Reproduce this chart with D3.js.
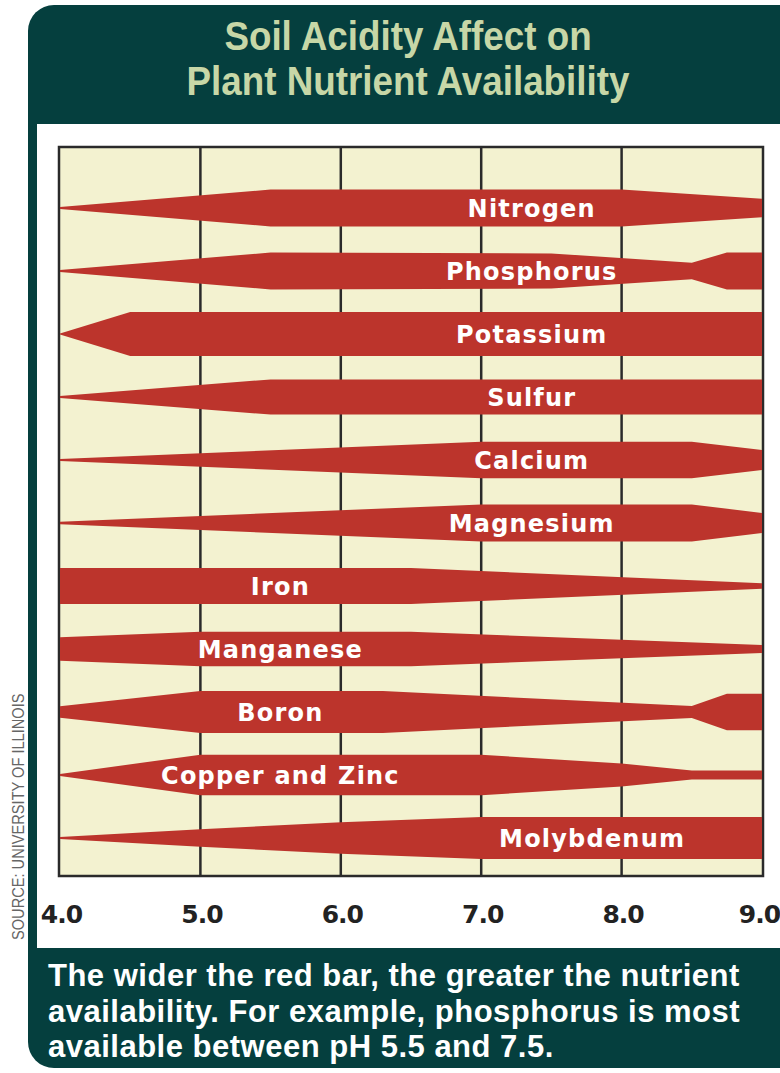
<!DOCTYPE html>
<html>
<head>
<meta charset="utf-8">
<script src="https://cdn.jsdelivr.net/npm/d3@7"></script>
<style>
  body { margin: 0; background: #ffffff; }
  svg { display: block; }
</style>
</head>
<body>
<div id="chart"></div>
<script>
// Nutrients, top to bottom
const nutrients = [
  "Nitrogen", "Phosphorus", "Potassium", "Sulfur", "Calcium", "Magnesium",
  "Iron", "Manganese", "Boron", "Copper and Zinc", "Molybdenum"
];

// pH axis
const phTicks = [4, 5, 6, 7, 8, 9];
const tickLabels = ["4.0", "5.0", "6.0", "7.0", "8.0", "9.0"];

// relative availability (0..1) at pH breakpoints
const nitrogen = [[4.0, 0.05], [5.5, 0.84], [8.0, 0.84], [9.0, 0.42]];
const phosphorus = [[4.0, 0.05], [5.5, 0.84], [7.5, 0.8], [8.5, 0.37], [8.75, 0.84], [9.0, 0.84]];
const potassium = [[4.0, 0.02], [4.5, 1.0], [9.0, 1.0]];
const sulfur = [[4.0, 0.05], [5.5, 0.8], [9.0, 0.8]];
const calcium = [[4.0, 0.05], [7.0, 0.83], [8.5, 0.83], [9.0, 0.46]];
const magnesium = [[4.0, 0.06], [7.0, 0.84], [8.5, 0.84], [9.0, 0.46]];
const iron = [[4.0, 0.82], [6.5, 0.82], [9.0, 0.12]];
const manganese = [[4.0, 0.53], [5.0, 0.78], [6.5, 0.78], [9.0, 0.18]];
const boron = [[4.0, 0.26], [5.0, 0.95], [6.3, 0.95], [8.5, 0.27], [8.75, 0.83], [9.0, 0.83]];
const copperZinc = [[4.0, 0.05], [5.0, 0.92], [7.0, 0.92], [8.0, 0.52], [8.5, 0.2], [9.0, 0.2]];
const molybdenum = [[4.0, 0.05], [5.0, 0.4], [6.0, 0.72], [7.0, 0.95], [9.0, 0.95]];

const profiles = [nitrogen, phosphorus, potassium, sulfur, calcium, magnesium,
  iron, manganese, boron, copperZinc, molybdenum];

// pH where each name sits
const labelPh = [7.36, 7.36, 7.36, 7.36, 7.36, 7.36, 5.57, 5.57, 5.57, 5.57, 7.79];

const titleLines = ["Soil Acidity Affect on", "Plant Nutrient Availability"];
const noteLines = [
  "The wider the red bar, the greater the nutrient",
  "availability. For example, phosphorus is most",
  "available between pH 5.5 and 7.5."
];
const sourceText = "SOURCE: UNIVERSITY OF ILLINOIS";

const W = 780, H = 1073;
const darkGreen = "#053f3e";
const red = "#bc342c";
const cream = "#f3f2d0";
const ink = "#2a2a2a";
const sans = "'Liberation Sans', Arial, Helvetica, sans-serif";
const heavy = "'DejaVu Sans', Verdana, sans-serif";

const svg = d3.select("#chart")
  .append("svg")
  .attr("width", W)
  .attr("height", H);

// outer dark panel with rounded left corners
const L = 28, T = 5, B = 1068, r = 26;
svg.append("path")
  .attr("d", `M${L + r},${T} H${W + 20} V${B} H${L + r} A${r},${r} 0 0 1 ${L},${B - r} V${T + r} A${r},${r} 0 0 1 ${L + r},${T} Z`)
  .attr("fill", darkGreen);

// white inner panel
svg.append("rect")
  .attr("x", 37).attr("y", 124)
  .attr("width", W).attr("height", 824)
  .attr("fill", "#ffffff");

// title (squeezed a bit to look condensed)
svg.selectAll(".title")
  .data(titleLines)
  .enter()
  .append("text")
  .attr("class", "title")
  .attr("transform", (d, i) => `translate(408,${50 + i * 45}) scale(0.92,1)`)
  .attr("text-anchor", "middle")
  .style("font-family", sans)
  .style("font-weight", "bold")
  .style("font-size", "40px")
  .style("fill", "#c7d7a7")
  .text(d => d);

// plot area
const plot = { left: 60, right: 762, top: 147, bottom: 876 };

const x = d3.scaleLinear()
  .domain([4, 9])
  .range([plot.left, plot.right]);

const y = d3.scalePoint()
  .domain(nutrients)
  .range([plot.top + 61, plot.bottom - 38]);

const thick = d3.scaleLinear()
  .domain([0, 1])
  .range([0, 44]);

svg.append("rect")
  .attr("x", plot.left - 1)
  .attr("y", plot.top)
  .attr("width", plot.right - plot.left + 2)
  .attr("height", plot.bottom - plot.top)
  .attr("fill", cream)
  .attr("stroke", ink)
  .attr("stroke-width", 2.5);

// vertical grid lines
svg.append("g")
  .selectAll("line")
  .data(phTicks.slice(1, -1))
  .enter()
  .append("line")
  .attr("x1", d => x(d)).attr("x2", d => x(d))
  .attr("y1", plot.top).attr("y2", plot.bottom)
  .attr("stroke", ink)
  .attr("stroke-width", 2.5);

// bars
const bars = svg.append("g")
  .selectAll("g")
  .data(nutrients)
  .enter()
  .append("g");

bars.append("path")
  .attr("d", (name, i) => {
    const yc = y(name);
    return d3.area()
      .x(d => x(d[0]))
      .y0(d => yc - thick(d[1]) / 2)
      .y1(d => yc + thick(d[1]) / 2)(profiles[i]);
  })
  .attr("fill", red);

bars.append("text")
  .attr("x", (d, i) => x(labelPh[i]))
  .attr("y", d => y(d))
  .attr("dy", "0.36em")
  .attr("text-anchor", "middle")
  .style("font-family", heavy)
  .style("font-weight", "bold")
  .style("font-size", "24px")
  .style("letter-spacing", "1.2px")
  .style("fill", "#ffffff")
  .text(d => d);

// pH axis labels
const xAxis = svg.append("g")
  .attr("transform", `translate(0,${plot.bottom})`)
  .call(d3.axisBottom(x).tickValues(phTicks).tickFormat((d, i) => tickLabels[i]).tickSize(0).tickPadding(47));

xAxis.select(".domain").remove();
xAxis.selectAll("text")
  .attr("dy", null)
  .attr("dx", d => (d === 9 ? -3 : 1))
  .style("font-family", heavy)
  .style("font-weight", "bold")
  .style("font-size", "25px")
  .style("letter-spacing", "-1px")
  .style("fill", "#222222");

// source note, rotated
svg.append("text")
  .attr("transform", "translate(24,940) rotate(-90) scale(0.86,1)")
  .style("font-family", sans)
  .style("font-size", "17px")
  .style("fill", "#666666")
  .text(sourceText);

// footnote
svg.selectAll(".note")
  .data(noteLines)
  .enter()
  .append("text")
  .attr("class", "note")
  .attr("x", 48)
  .attr("y", (d, i) => 986 + i * 35.5)
  .style("font-family", sans)
  .style("font-weight", "bold")
  .style("font-size", "31px")
  .style("letter-spacing", "0.5px")
  .style("fill", "#ffffff")
  .text(d => d);
</script>
</body>
</html>
